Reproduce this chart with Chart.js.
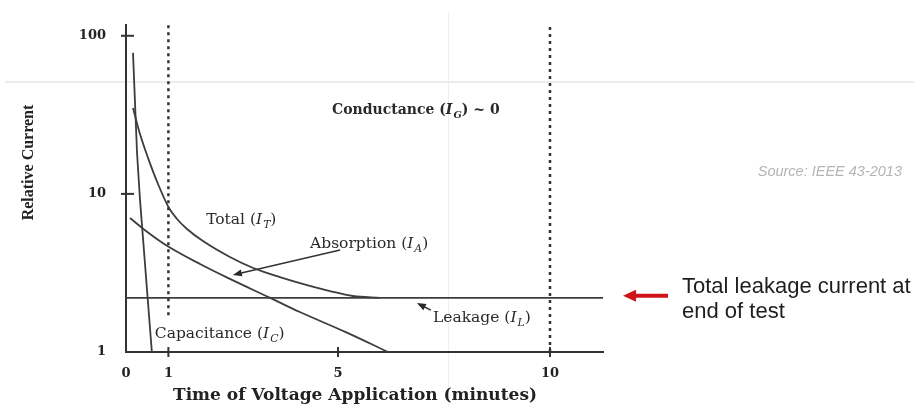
<!DOCTYPE html>
<html lang="en">
<head>
    <meta charset="UTF-8">
    <title>Insulation test - current components</title>
    <script src="https://cdn.jsdelivr.net/npm/chart.js"></script>
    <style>
        html, body { margin: 0; padding: 0; background: #fff; }
        #wrap { position: relative; width: 914px; height: 407px; }
        /* faint slide guides behind the figure */
        .guide-h { position: absolute; left: 5px; right: 0; top: 81px; height: 2px; background: #ececec; }
        .guide-v { position: absolute; left: 448px; top: 12px; bottom: 0; width: 1px; background: #efefef; }
        canvas { position: absolute; left: 0; top: 0; }
    </style>
</head>
<body>
<div id="wrap">
    <div class="guide-h"></div>
    <div class="guide-v"></div>
    <canvas id="chart" width="914" height="407"></canvas>
</div>
<script>
    // time (minutes) / relative current
    const capT = [0.165, 0.26, 0.33, 0.61];
    const capI = [78, 18.2, 9.2, 1];

    const totalT = [0.165, 0.33, 0.519, 0.755, 1.014, 1.203, 1.439, 1.816, 2.45, 3.0, 3.63, 4.27, 4.81, 5.35, 5.99];
    const totalI = [34.9, 23.9, 16.9, 11.55, 8.14, 6.94, 6.0, 5.03, 3.99, 3.40, 2.98, 2.65, 2.43, 2.26, 2.2];

    const absT = [0.094, 0.566, 1.014, 1.745, 2.45, 3.4, 4.1, 5.17, 6.18];
    const absI = [7.04, 5.57, 4.61, 3.60, 2.90, 2.20, 1.79, 1.34, 1];

    const leakT = [0, 11.25];
    const leakI = [2.2, 2.2];

    const xTicks = [0, 1, 5, 10];
    const yTicks = [1, 10, 100];
    const xMax = 11.25;
    const yMax = 117;

    // dotted markers at 1 and 10 minutes
    const mark1 = [1.71, yMax];
    const mark10 = [1, yMax];

    const pts = (ts, vs) => ts.map((t, i) => ({ x: t, y: vs[i] }));

    const lineColor = '#3d3d3d';
    const serif = '"DejaVu Serif", serif';

    // labels placed in data space (left edge, baseline)
    const notes = [
        { t: 4.86, v: 32.1, size: 14, bold: 1, parts: [{ s: 'Conductance (' }, { s: 'I', it: 1 }, { s: 'G', it: 1, sub: 1 }, { s: ') ~ 0' }] },
        { t: 1.89, v: 6.46, size: 15.5, parts: [{ s: 'Total (' }, { s: 'I', it: 1 }, { s: 'T', it: 1, sub: 1 }, { s: ')' }] },
        { t: 4.34, v: 4.55, size: 15.5, parts: [{ s: 'Absorption (' }, { s: 'I', it: 1 }, { s: 'A', it: 1, sub: 1 }, { s: ')' }] },
        { t: 7.24, v: 1.55, size: 15.5, parts: [{ s: 'Leakage (' }, { s: 'I', it: 1 }, { s: 'L', it: 1, sub: 1 }, { s: ')' }] },
        { t: 0.68, v: 1.23, size: 15.5, parts: [{ s: 'Capacitance (' }, { s: 'I', it: 1 }, { s: 'C', it: 1, sub: 1 }, { s: ')' }] }
    ];
    const pointers = [
        { from: [5.05, 4.42], to: [2.52, 3.07] },
        { from: [7.19, 1.84], to: [6.86, 2.04] }
    ];

    function drawRich(ctx, x, y, parts, size, bold) {
        const fontFor = p => (p.it ? 'italic ' : '') + (bold ? 'bold ' : '') + (p.sub ? size * 0.7 : size) + 'px ' + serif;
        ctx.textAlign = 'left';
        ctx.textBaseline = 'alphabetic';
        let cx = x;
        parts.forEach(p => {
            ctx.font = fontFor(p);
            ctx.fillText(p.s, cx, y + (p.sub ? size * 0.28 : 0));
            cx += ctx.measureText(p.s).width + (p.it && !p.sub ? 1 : 0);
        });
    }

    function arrow(ctx, x1, y1, x2, y2, head, half) {
        const a = Math.atan2(y2 - y1, x2 - x1);
        ctx.beginPath();
        ctx.moveTo(x1, y1);
        ctx.lineTo(x2 - Math.cos(a) * head * 0.6, y2 - Math.sin(a) * head * 0.6);
        ctx.stroke();
        ctx.beginPath();
        ctx.moveTo(x2, y2);
        ctx.lineTo(x2 - Math.cos(a) * head + Math.sin(a) * half, y2 - Math.sin(a) * head - Math.cos(a) * half);
        ctx.lineTo(x2 - Math.cos(a) * head - Math.sin(a) * half, y2 - Math.sin(a) * head + Math.cos(a) * half);
        ctx.closePath();
        ctx.fill();
    }

    const extras = {
        id: 'extras',
        afterDraw(chart) {
            const { ctx, chartArea: a, scales: { x, y } } = chart;
            const px = t => x.getPixelForValue(t);
            const py = v => y.getPixelForValue(v);
            ctx.save();

            // tick marks crossing the axes
            ctx.strokeStyle = '#333';
            ctx.lineWidth = 2;
            xTicks.slice(1).forEach(t => {
                ctx.beginPath(); ctx.moveTo(px(t), a.bottom - 5); ctx.lineTo(px(t), a.bottom + 5); ctx.stroke();
            });
            yTicks.slice(1).forEach(v => {
                ctx.beginPath(); ctx.moveTo(a.left - 5, py(v)); ctx.lineTo(a.left + 8, py(v)); ctx.stroke();
            });

            // curve labels and pointers
            ctx.fillStyle = '#2a2a2a';
            notes.forEach(n => drawRich(ctx, px(n.t), py(n.v), n.parts, n.size, n.bold));
            ctx.strokeStyle = '#333';
            ctx.lineWidth = 1.5;
            pointers.forEach(p => arrow(ctx, px(p.from[0]), py(p.from[1]), px(p.to[0]), py(p.to[1]), 9, 3.5));

            // axis titles
            ctx.fillStyle = '#222';
            ctx.font = 'bold 17px ' + serif;
            ctx.textAlign = 'center';
            ctx.textBaseline = 'middle';
            ctx.fillText('Time of Voltage Application (minutes)', a.left + 229, a.bottom + 44);
            ctx.save();
            ctx.translate(29, (a.top + a.bottom) / 2 - 26);
            ctx.rotate(-Math.PI / 2);
            ctx.font = 'bold 16px "Liberation Serif", serif';
            ctx.fillText('Relative Current', 0, 0);
            ctx.restore();

            // source note
            ctx.fillStyle = '#b5b5b5';
            ctx.font = 'italic 14.5px "Liberation Sans", Arial, sans-serif';
            ctx.textAlign = 'right';
            ctx.fillText('Source: IEEE 43-2013', chart.width - 12, 172);

            // red call-out at the leakage level
            const ly = py(leakI[0]) - 2;
            ctx.fillStyle = '#d0121b';
            ctx.strokeStyle = '#d0121b';
            ctx.lineWidth = 4;
            arrow(ctx, a.right + 65, ly, a.right + 20, ly, 13, 6);
            ctx.fillStyle = '#1e1e1e';
            ctx.font = '22px "Liberation Sans", Arial, sans-serif';
            ctx.textAlign = 'left';
            ctx.textBaseline = 'alphabetic';
            ctx.fillText('Total leakage current at', a.right + 79, ly - 3);
            ctx.fillText('end of test', a.right + 79, ly + 22);
            ctx.restore();
        }
    };

    const curve = (data, extra) => Object.assign({
        data, borderColor: lineColor, borderWidth: 1.8, pointRadius: 0, fill: false
    }, extra);

    new Chart(document.getElementById('chart'), {
        type: 'line',
        data: {
            datasets: [
                curve(pts(capT, capI), { tension: 0 }),
                curve(pts(totalT, totalI), { cubicInterpolationMode: 'monotone' }),
                curve(pts(absT, absI), { tension: 0.4 }),
                curve(pts(leakT, leakI), { tension: 0 }),
                curve(pts([1, 1], mark1), { borderDash: [3, 4], borderWidth: 2.5, borderColor: '#333' }),
                curve(pts([10, 10], mark10), { borderDash: [3, 4], borderWidth: 2.5, borderColor: '#333' })
            ]
        },
        options: {
            responsive: false,
            animation: false,
            layout: { padding: { top: 25, right: 311, bottom: 0, left: 0 } },
            plugins: { legend: { display: false }, tooltip: { enabled: false } },
            scales: {
                x: {
                    type: 'linear', min: 0, max: xMax,
                    afterBuildTicks: s => { s.ticks = xTicks.map(v => ({ value: v })); },
                    afterFit: s => { s.height = 55; },
                    grid: { display: false },
                    border: { display: true, color: '#333', width: 2 },
                    ticks: { padding: 6, color: '#222', autoSkip: false, maxRotation: 0,
                             font: { family: serif, size: 13, weight: 'bold' } }
                },
                y: {
                    type: 'logarithmic', min: 1, max: yMax,
                    afterBuildTicks: s => { s.ticks = yTicks.map(v => ({ value: v })); },
                    afterFit: s => { s.width = 126; },
                    grid: { display: false },
                    border: { display: true, color: '#333', width: 2 },
                    ticks: { padding: 12, color: '#222', callback: v => String(v),
                             font: { family: serif, size: 13, weight: 'bold' } }
                }
            }
        },
        plugins: [extras]
    });
</script>
</body>
</html>
